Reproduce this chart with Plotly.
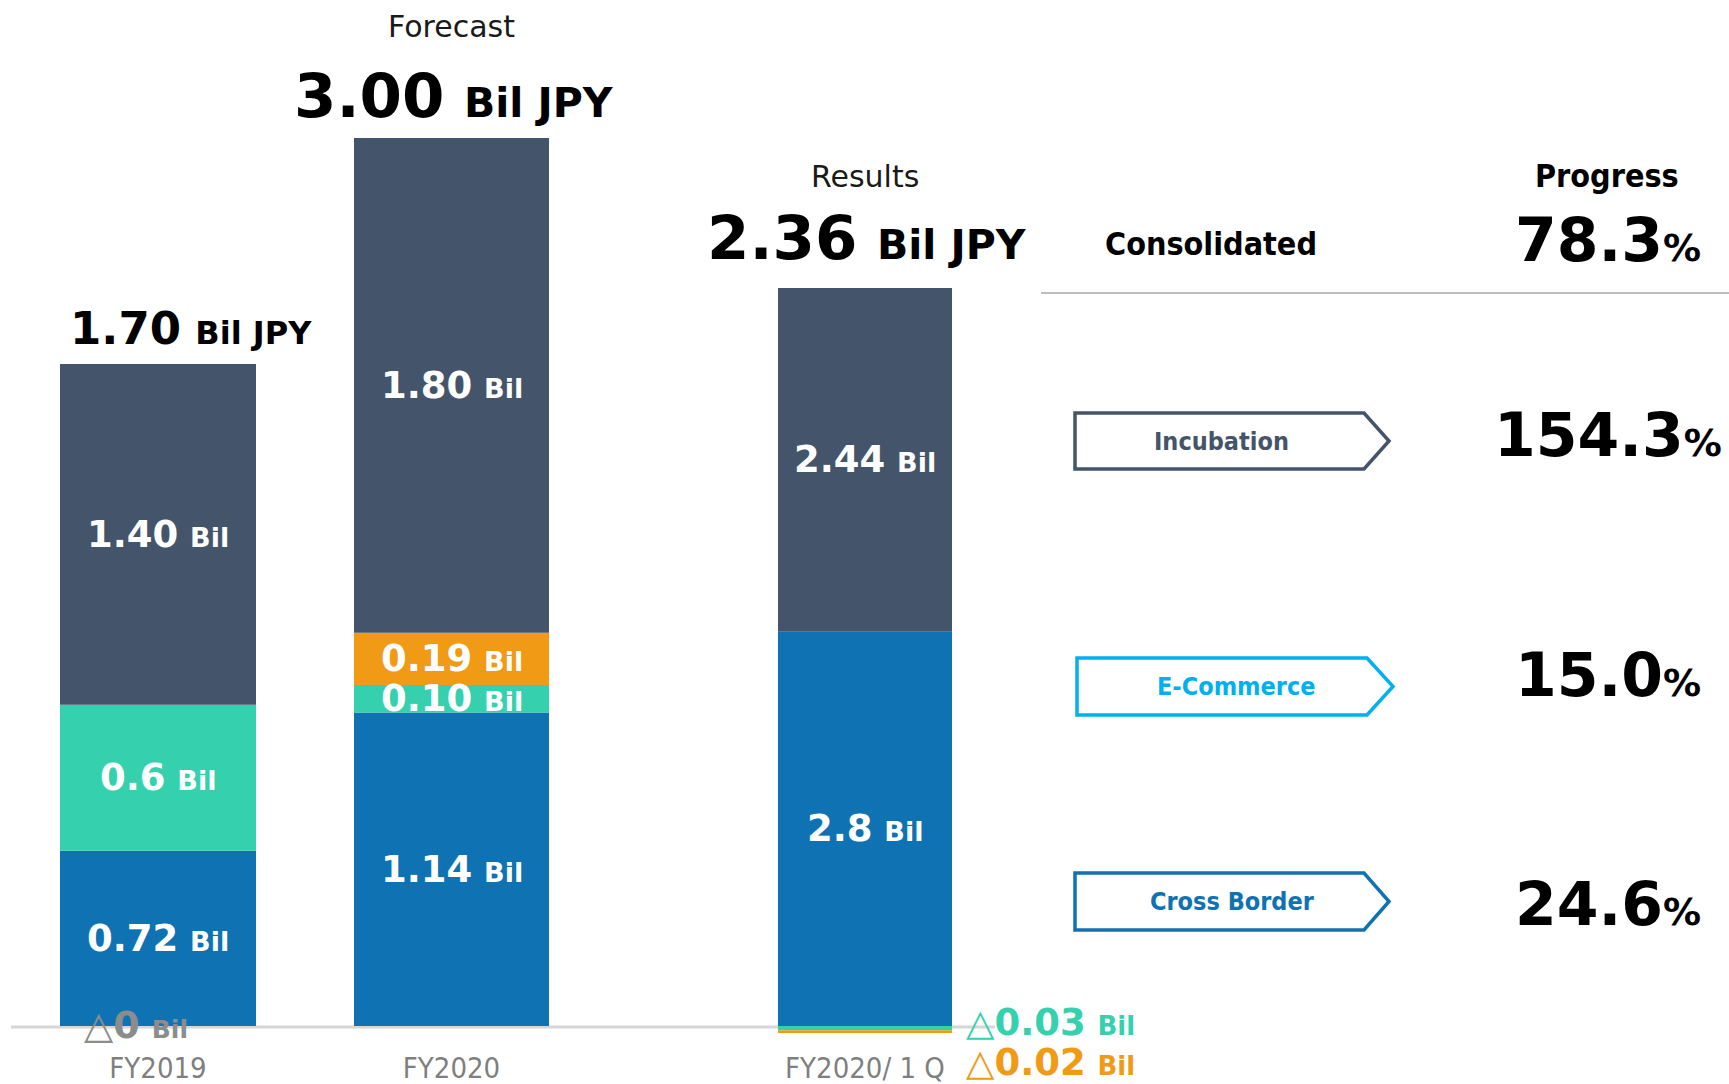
import plotly.graph_objects as go

# ---- data -------------------------------------------------------------
periods = ["FY2019", "FY2020", "FY2020/ 1 Q"]
period_headers = ["", "Forecast", "Results"]
consolidated_total = [1.70, 3.00, 2.36]

# segment profit by business (Bil JPY); negative values are losses (△)
cross_border = [0.72, 1.14, 2.8]
e_commerce = [0.6, 0.10, -0.03]
others = [0.0, 0.19, -0.02]
incubation = [1.40, 1.80, 2.44]

# number of decimals printed in each segment label
cross_border_dp = [2, 2, 1]
e_commerce_dp = [1, 2, 2]
others_dp = [0, 2, 2]
incubation_dp = [2, 2, 2]

progress_rows = ["Consolidated", "Incubation", "E-Commerce", "Cross Border"]
progress_pct = [78.3, 154.3, 15.0, 24.6]

# ---- styling / layout constants ---------------------------------------
W, H = 1729, 1084
BAR_X_PX = [(60, 256), (354, 549), (778, 952)]
BAR_TOP_PX = [364, 138, 288]
BASE_PX = 1026

C_BLUE = "#0E72B3"
C_TEAL = "#35D1AF"
C_ORANGE = "#F09A16"
C_DARK = "#44546A"
C_SKY = "#00B0F0"
C_GREY_TXT = "#8C8C8C"

NUM_FONT = "DejaVu Sans"
COND_FONT = "DejaVu Sans Condensed, DejaVu Sans"
TICK_FONT = "Liberation Sans Narrow, DejaVu Sans Condensed, sans-serif"

series = [
    ("Cross Border", cross_border, cross_border_dp, C_BLUE),
    ("E-Commerce", e_commerce, e_commerce_dp, C_TEAL),
    ("Others", others, others_dp, C_ORANGE),
    ("Incubation", incubation, incubation_dp, C_DARK),
]


def px_x(px):
    return px / W


def px_y(py):
    return 1 - py / H


def seg_text(v, dp, num_size, unit_size):
    prefix = "△" if v <= 0 else ""
    num = f"{abs(v):.{dp}f}"
    return (f"{prefix}<b>{num}</b> "
            f"<span style='font-size:{unit_size}px'><b>Bil</b></span>")


fig = go.Figure()
annotations = []
layout_axes = {}

for i, period in enumerate(periods):
    sfx = "" if i == 0 else str(i + 1)
    xa, ya = f"x{sfx}", f"y{sfx}"

    pos_total = sum(vals[i] for _, vals, _, _ in series if vals[i] > 0)

    # y range so that 0 sits on the common baseline and each bar top lands
    # at its own height (each period is drawn on its own scale)
    f0 = 1 - BASE_PX / H
    f1 = 1 - BAR_TOP_PX[i] / H
    span = pos_total / (f1 - f0)
    lo = -f0 * span
    hi = lo + span

    x0, x1 = BAR_X_PX[i]
    layout_axes[f"xaxis{sfx}"] = dict(
        domain=[px_x(x0), px_x(x1)], type="category", range=[-0.5, 0.5],
        anchor="free", position=px_y(1048), showgrid=False, zeroline=False,
        showline=False, ticks="", fixedrange=True, automargin=False,
        tickfont=dict(family=TICK_FONT, size=29, color="#7F7F7F"),
    )
    layout_axes[f"yaxis{sfx}"] = dict(
        domain=[0, 1], range=[lo, hi], visible=False, anchor=xa,
        fixedrange=True, automargin=False,
    )

    pos_cum = 0.0
    neg_cum = 0.0
    neg_k = 0
    for name, vals, dps, color in series:
        v = vals[i]
        fig.add_trace(go.Bar(
            x=[period], y=[v], xaxis=xa, yaxis=ya, name=name, width=1,
            marker=dict(color=color, line=dict(width=0)),
            showlegend=False, hoverinfo="skip",
        ))
        if v > 0:
            mid = pos_cum + v / 2
            pos_cum += v
            annotations.append(dict(
                x=period, y=mid, xref=xa, yref=ya, showarrow=False,
                text=seg_text(v, dps[i], 37, 27),
                font=dict(family=NUM_FONT, size=37, color="white"),
                xanchor="center", yanchor="middle",
            ))
        elif v == 0:
            annotations.append(dict(
                x=period, y=0, xref=xa, yref=ya, showarrow=False,
                text=seg_text(v, dps[i], 38, 25),
                font=dict(family=NUM_FONT, size=38, color=C_GREY_TXT),
                xanchor="center", yanchor="middle", xshift=-22, yshift=1,
            ))
        else:
            mid = neg_cum + v / 2
            neg_cum += v
            annotations.append(dict(
                x=1, y=mid, xref=f"{xa} domain", yref=ya, showarrow=False,
                text=seg_text(v, dps[i], 37, 26),
                font=dict(family=NUM_FONT, size=37, color=color),
                xanchor="left", yanchor="middle", xshift=12,
                yshift=6 - 37 * neg_k,
            ))
            neg_k += 1

    # consolidated total above each bar
    big, small = (45, 32) if i == 0 else (61, 41)
    annotations.append(dict(
        x=period, y=pos_total, xref=xa, yref=ya, showarrow=False,
        text=(f"<b>{consolidated_total[i]:.2f}</b> "
              f"<span style='font-size:{small}px'><b>Bil JPY</b></span>"),
        font=dict(family=NUM_FONT, size=big, color="black"),
        xanchor="center", yanchor="bottom",
        xshift=[33, 2, 2][i], yshift=[7, 5, 13][i],
    ))
    if period_headers[i]:
        annotations.append(dict(
            x=period, y=pos_total, xref=xa, yref=ya, showarrow=False,
            text=period_headers[i],
            font=dict(family=NUM_FONT, size=30, color="#1A1A1A"),
            xanchor="center", yanchor="middle", yshift=112,
        ))

# ---- progress panel ---------------------------------------------------
shapes = [
    # baseline under the bars
    dict(type="line", xref="paper", yref="paper", layer="below",
         x0=px_x(11), x1=px_x(995), y0=px_y(1027), y1=px_y(1027),
         line=dict(color="#D6D6D6", width=3)),
    # separator under the consolidated row
    dict(type="line", xref="paper", yref="paper",
         x0=px_x(1041), x1=1, y0=px_y(293), y1=px_y(293),
         line=dict(color="#BDBDBD", width=2)),
]

annotations.append(dict(
    x=px_x(1607), y=px_y(176), xref="paper", yref="paper", showarrow=False,
    text="<b>Progress</b>", font=dict(family=COND_FONT, size=32, color="black"),
    xanchor="center", yanchor="middle",
))

row_y = [240, 435, 675, 904]
arrow_boxes = {
    "Incubation": (1075, 1364, 1389, 413, 469, C_DARK, 1221),
    "E-Commerce": (1077, 1367, 1393, 658, 715, C_SKY, 1236),
    "Cross Border": (1075, 1364, 1389, 873, 930, C_BLUE, 1232),
}

for name, pct, cy in zip(progress_rows, progress_pct, row_y):
    annotations.append(dict(
        x=px_x(1608), y=px_y(cy), xref="paper", yref="paper", showarrow=False,
        text=(f"<b>{pct:.1f}</b>"
              f"<span style='font-size:38px'><b>%</b></span>"),
        font=dict(family=NUM_FONT, size=60, color="black"),
        xanchor="center", yanchor="middle",
    ))
    if name in arrow_boxes:
        xl, xs, xt, yt, yb, col, tx = arrow_boxes[name]
        path = (f"M {px_x(xl)},{px_y(yt)} L {px_x(xs)},{px_y(yt)} "
                f"L {px_x(xt)},{px_y((yt + yb) / 2)} L {px_x(xs)},{px_y(yb)} "
                f"L {px_x(xl)},{px_y(yb)} Z")
        shapes.append(dict(type="path", xref="paper", yref="paper", path=path,
                           line=dict(color=col, width=3.5),
                           fillcolor="white"))
        annotations.append(dict(
            x=px_x(tx), y=px_y((yt + yb) / 2), xref="paper", yref="paper",
            showarrow=False, text=f"<b>{name}</b>",
            font=dict(family=COND_FONT, size=25, color=col),
            xanchor="center", yanchor="middle",
        ))
    else:
        annotations.append(dict(
            x=px_x(1211), y=px_y(244), xref="paper", yref="paper",
            showarrow=False, text=f"<b>{name}</b>",
            font=dict(family=COND_FONT, size=32, color="black"),
            xanchor="center", yanchor="middle",
        ))

fig.update_layout(
    width=W, height=H,
    margin=dict(l=0, r=0, t=0, b=0, pad=0, autoexpand=False),
    paper_bgcolor="white", plot_bgcolor="rgba(0,0,0,0)",
    barmode="relative",
    showlegend=False,
    annotations=annotations,
    shapes=shapes,
    **layout_axes,
)

fig.write_html("out.html", config={"displayModeBar": False})
